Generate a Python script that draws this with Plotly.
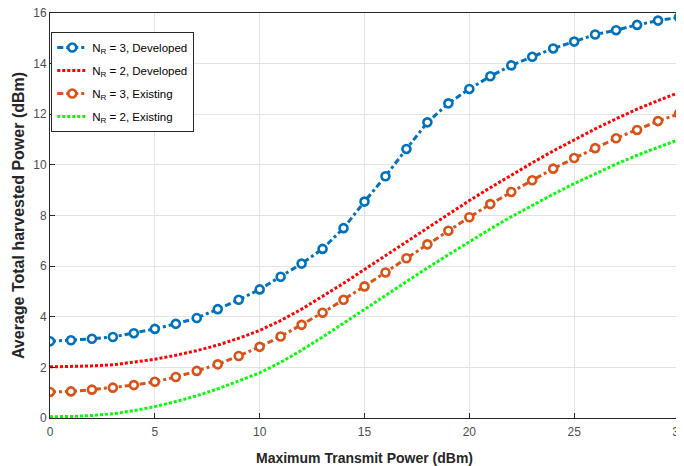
import plotly.graph_objects as go

x_power = list(range(0, 31))

nr3_developed = [3.03, 3.07, 3.13, 3.20, 3.35, 3.52, 3.72, 3.95, 4.30, 4.67, 5.08,
                 5.58, 6.10, 6.68, 7.50, 8.55, 9.55, 10.63, 11.68, 12.43, 13.00,
                 13.50, 13.93, 14.27, 14.60, 14.87, 15.15, 15.32, 15.53, 15.70, 15.83]
nr2_developed = [2.02, 2.03, 2.06, 2.10, 2.20, 2.32, 2.48, 2.66, 2.88, 3.15, 3.46,
                 3.85, 4.30, 4.80, 5.32, 5.87, 6.42, 6.97, 7.52, 8.06, 8.59,
                 9.10, 9.60, 10.08, 10.55, 11.00, 11.42, 11.82, 12.20, 12.54, 12.86]
nr3_existing = [1.03, 1.05, 1.12, 1.20, 1.30, 1.43, 1.62, 1.86, 2.12, 2.45, 2.81,
                3.22, 3.68, 4.16, 4.67, 5.20, 5.75, 6.31, 6.86, 7.40, 7.93,
                8.45, 8.93, 9.39, 9.85, 10.27, 10.66, 11.05, 11.38, 11.73, 12.02]
nr2_existing = [0.05, 0.06, 0.10, 0.17, 0.29, 0.45, 0.65, 0.88, 1.15, 1.45, 1.78,
                2.20, 2.68, 3.20, 3.75, 4.30, 4.85, 5.40, 5.93, 6.45, 6.97,
                7.47, 7.95, 8.40, 8.84, 9.26, 9.66, 10.03, 10.38, 10.70, 11.00]

names = ["N<sub>R</sub> = 3, Developed", "N<sub>R</sub> = 2, Developed",
         "N<sub>R</sub> = 3, Existing", "N<sub>R</sub> = 2, Existing"]

x_ticks = [0, 5, 10, 15, 20, 25, 30]
y_ticks = [0, 2, 4, 6, 8, 10, 12, 14, 16]

BLUE = "#0072BD"
ORANGE = "#D95319"
RED = "#FF0000"
GREEN = "#00FF00"

fig = go.Figure()

fig.add_trace(go.Scatter(
    x=x_power, y=nr3_developed, name=names[0], mode="lines+markers", legendgroup="a",
    line=dict(color=BLUE, width=3, dash="6px,3px,3px,3px"),
    marker=dict(symbol="circle", size=8, color="white",
                line=dict(color=BLUE, width=2.6))))
fig.add_trace(go.Scatter(
    x=x_power, y=nr2_developed, name=names[1], mode="lines", legendgroup="b",
    line=dict(color=RED, width=3, dash="3px,2px")))
fig.add_trace(go.Scatter(
    x=x_power, y=nr3_existing, name=names[2], mode="lines+markers", legendgroup="c",
    line=dict(color=ORANGE, width=3, dash="6px,3px,3px,3px"),
    marker=dict(symbol="circle", size=8, color="white",
                line=dict(color=ORANGE, width=2.6))))
fig.add_trace(go.Scatter(
    x=x_power, y=nr2_existing, name=names[3], mode="lines", legendgroup="d",
    line=dict(color=GREEN, width=3, dash="3px,2px")))

axis_common = dict(
    showline=True, linecolor="#262626", linewidth=1, mirror=True,
    showgrid=True, gridcolor="#E3E3E3", gridwidth=1,
    ticks="inside", ticklen=5, tickcolor="#262626",
    zeroline=False, ticklabeloverflow="allow",
    tickfont=dict(family="Liberation Sans, Arial", size=12, color="#4D4D4D"),
)

# body has a default 8px margin in the page, so the figure is 8px smaller
fig.update_layout(
    width=676, height=458,
    paper_bgcolor="white", plot_bgcolor="white",
    margin=dict(l=42, r=5, t=5, b=48, autoexpand=False),
    font=dict(family="Liberation Sans, Arial", color="#262626"),
    xaxis=dict(range=[0, 30], tickvals=x_ticks, ticklabelstandoff=3,
               title=dict(text="<b>Maximum Transmit Power (dBm)</b>",
                          font=dict(size=14, color="#262626"), standoff=15),
               **axis_common),
    yaxis=dict(range=[0, 16], tickvals=y_ticks,
               title=dict(text="<b>Average Total harvested Power (dBm)</b>",
                          font=dict(size=16, color="#262626"), standoff=4),
               **axis_common),
    legend=dict(x=0.002, y=0.953, xanchor="left", yanchor="top",
                bgcolor="white", bordercolor="#262626", borderwidth=1,
                font=dict(family="Liberation Sans, Arial", size=11.5, color="#000000"),
                itemwidth=30, tracegroupgap=4),
    showlegend=True,
)

fig.write_html("out.html")
